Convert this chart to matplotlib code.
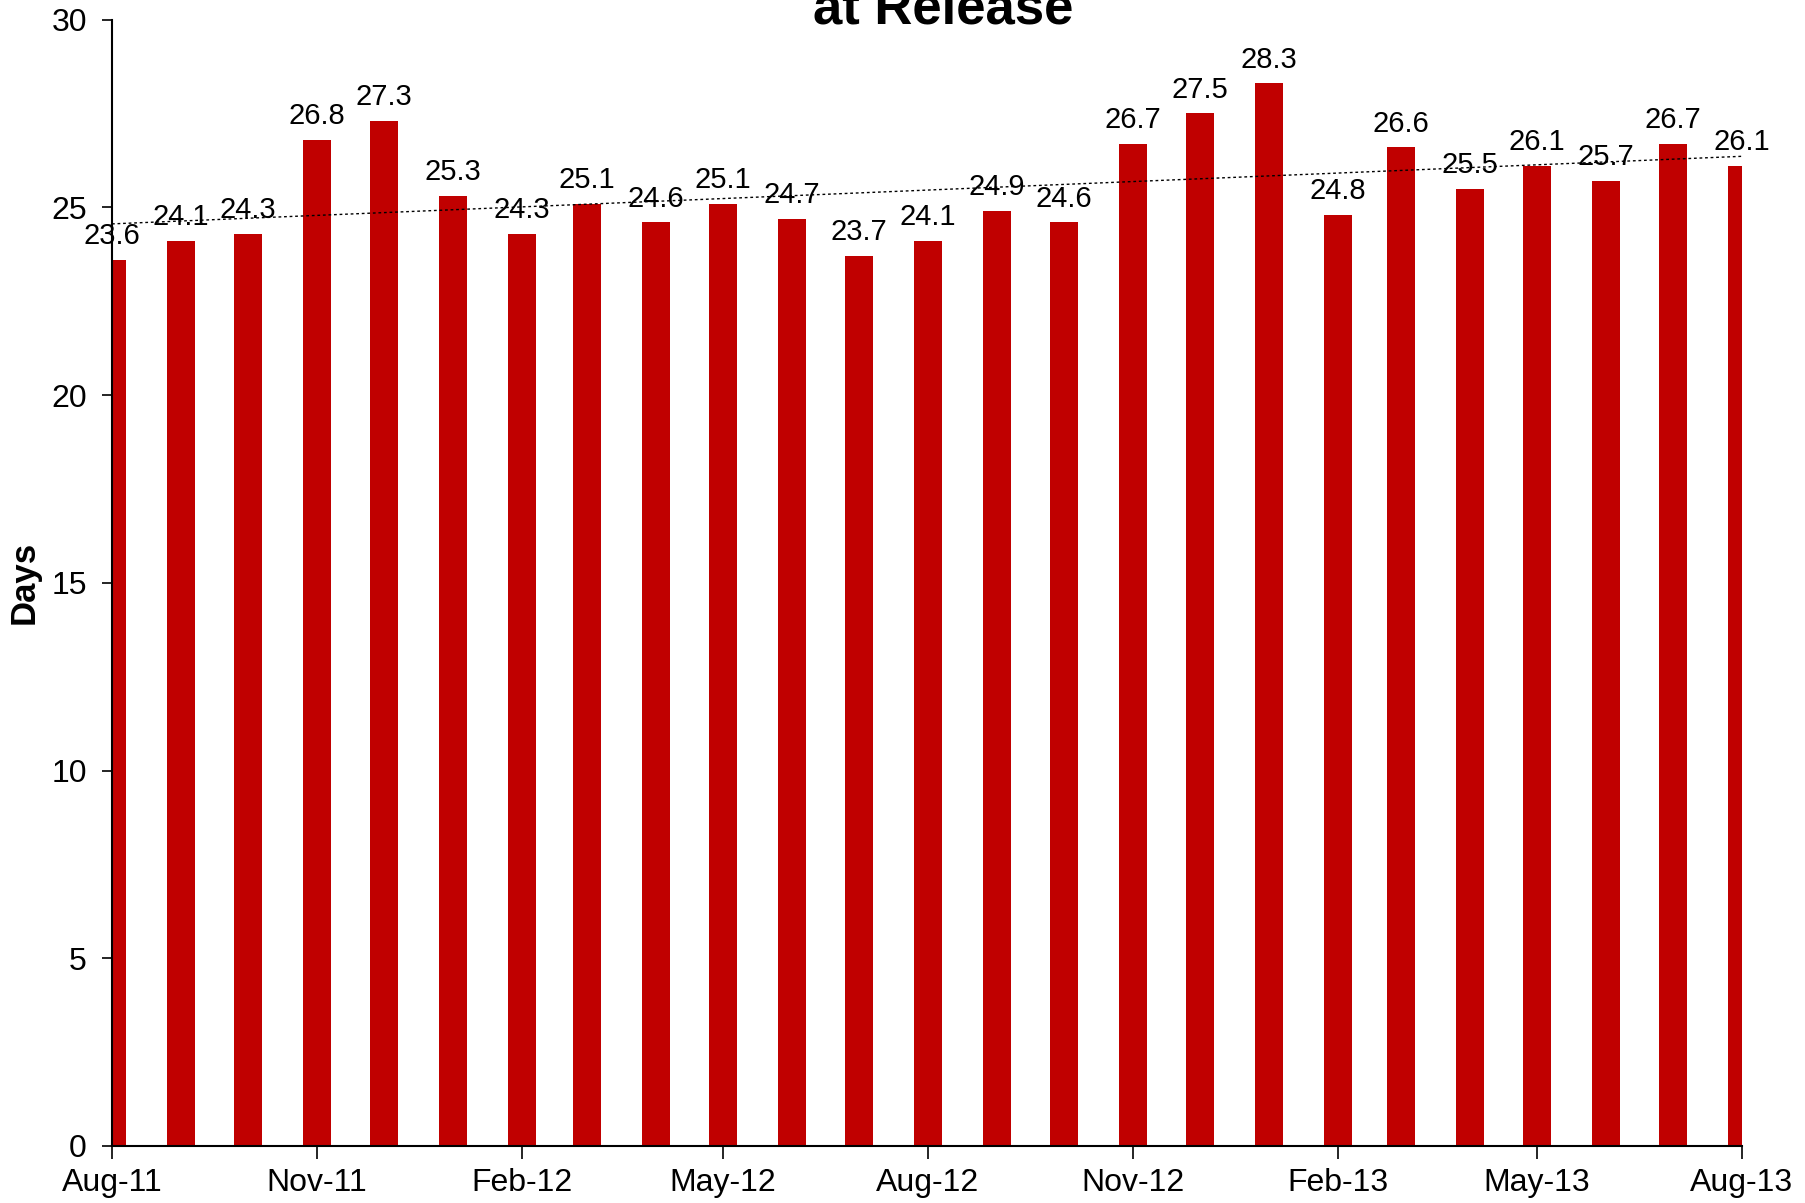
import matplotlib
matplotlib.use('Agg')
import matplotlib.pyplot as plt
import matplotlib.dates as mdates
import numpy as np
import pandas as pd

plt.rcParams['font.family'] = ['Liberation Sans', 'DejaVu Sans']

# monthly values, Aug-11 .. Aug-13
months = pd.date_range('2011-08-01', '2013-08-01', freq='MS')
days = [23.6, 24.1, 24.3, 26.8, 27.3, 25.3, 24.3, 25.1, 24.6, 25.1, 24.7, 23.7,
        24.1, 24.9, 24.6, 26.7, 27.5, 28.3, 24.8, 26.6, 25.5, 26.1, 25.7, 26.7, 26.1]
tick_months = pd.date_range('2011-08-01', '2013-08-01', freq='3MS')
title = 'at Release'

fig = plt.figure(figsize=(18.06, 12.03), dpi=100)
ax = fig.add_axes([0.062, 0.0474, 0.9025, 0.9363])

x = mdates.date2num(months)
ax.bar(x, days, width=12.5, color='#C00000', zorder=2)

# linear trendline
coef = np.polyfit(x, days, 1)
ax.plot(x[[0, -1]], np.polyval(coef, x[[0, -1]]), color='black',
        lw=1.0, linestyle=(0, (2, 2)), zorder=3)

for xi, v in zip(x, days):
    ax.annotate(f'{v:.1f}', (xi, v), xytext=(0, 7), textcoords='offset points',
                ha='center', va='bottom', fontsize=21, annotation_clip=False, zorder=4)

ax.set_xlim(x[0], x[-1])
ax.set_ylim(0, 30)
ax.set_yticks(range(0, 31, 5))
ax.set_xticks(mdates.date2num(tick_months))
ax.xaxis.set_major_formatter(mdates.DateFormatter('%b-%y'))

for s in ['top', 'right']:
    ax.spines[s].set_visible(False)
for s in ['left', 'bottom']:
    ax.spines[s].set_linewidth(1.5)
    ax.spines[s].set_zorder(5)

ax.tick_params(axis='y', length=7, width=1.2, labelsize=23, pad=11)
ax.tick_params(axis='x', length=9, width=1.2, labelsize=23, pad=7)

ax.set_ylabel('Days', fontsize=25, fontweight='bold')
ax.yaxis.set_label_coords(-0.044, 0.5)

fig.text(0.522, 1 - 23 / 1203, title, ha='center', va='baseline',
         fontsize=38, fontweight='bold')

fig.savefig('out.png', dpi=100)
